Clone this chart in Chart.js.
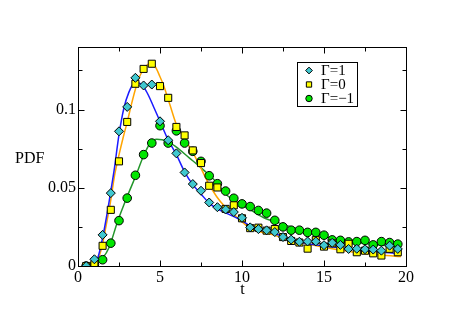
<!DOCTYPE html>
<html>
<head>
<meta charset="utf-8">
<script src="https://cdn.jsdelivr.net/npm/chart.js@4/dist/chart.umd.min.js"></script>
<style>
html,body{margin:0;padding:0;background:#fff;}
#wrap{width:457px;height:314px;position:relative;}
</style>
</head>
<body>
<div id="wrap"><canvas id="c" width="457" height="314"></canvas></div>
<script>
// ---- data ----
const seriesLabels = ['\u0393=1', '\u0393=0', '\u0393=\u22121'];
const tPoints = [0.5,1,1.5,2,2.5,3,3.5,4,4.5,5,5.5,6,6.5,7,7.5,8,8.5,9,9.5,10,10.5,11,11.5,12,12.5,13,13.5,14,14.5,15,15.5,16,16.5,17,17.5,18,18.5,19,19.5];
const gammaPlus1 = [0,0.0043,0.0199,0.0466,0.0861,0.1017,0.1203,0.1154,0.1160,0.0925,0.0804,0.0720,0.0598,0.0524,0.0481,0.0406,0.0376,0.0361,0.0345,0.0308,0.0247,0.0236,0.0228,0.0217,0.0185,0.0169,0.0155,0.0157,0.0157,0.0133,0.0148,0.0135,0.0109,0.0110,0.0107,0.0105,0.0098,0.0130,0.0109];
const gammaZero = [0,0.0012,0.0129,0.0359,0.0669,0.0921,0.1165,0.1260,0.1293,0.1150,0.1075,0.0889,0.0835,0.0739,0.0658,0.0513,0.0502,0.0365,0.0388,0.0305,0.0242,0.0245,0.0226,0.0236,0.0185,0.0160,0.0150,0.0111,0.0165,0.0124,0.0145,0.0107,0.0142,0.0088,0.0098,0.0081,0.0067,0.0110,0.0088];
const gammaMinus1 = [0,0.0010,0.0040,0.0146,0.0290,0.0434,0.0580,0.0712,0.0786,0.0897,0.0786,0.0864,0.0786,0.0733,0.0669,0.0577,0.0526,0.0479,0.0433,0.0397,0.0380,0.0355,0.0338,0.0292,0.0250,0.0229,0.0229,0.0215,0.0215,0.0197,0.0167,0.0164,0.0154,0.0156,0.0164,0.0135,0.0156,0.0150,0.0140];

// fitted curves
const curvePlus1T = [0.4,0.8,1.2,1.5,1.8,2.0,2.2,2.5,2.8,3.1,3.4,3.7,4.0,4.3,4.6,5.0,5.5,6.0,6.5,7.0,7.5,8.0,8.5,9.0,10,10.5,11,12,13,14,15,16,17,18,19,19.7];
const curvePlus1 = [0,0.001,0.005,0.018,0.035,0.048,0.061,0.084,0.101,0.111,0.1165,0.117,0.1145,0.109,0.102,0.0925,0.0805,0.0712,0.0602,0.052,0.046,0.0402,0.0365,0.034,0.029,0.0256,0.0238,0.0208,0.0168,0.0143,0.0128,0.0116,0.0103,0.0093,0.0084,0.0077];
const curveZeroT = [0.4,0.9,1.2,1.45,1.7,1.95,2.25,2.5,2.75,3.0,3.25,3.5,3.75,4.0,4.35,4.7,5.0,5.2,5.6,6.0,6.4,6.9,7.4,7.9,8.45,8.95,9.65,10.5,11.9,13.3,14.75,17,19.7];
const curveZero = [0,0.0005,0.004,0.012,0.025,0.039,0.059,0.071,0.082,0.092,0.103,0.113,0.121,0.1255,0.1293,0.1275,0.121,0.116,0.1032,0.0904,0.0829,0.0744,0.0647,0.054,0.0444,0.038,0.0316,0.0242,0.0199,0.0156,0.0124,0.0085,0.006];
const curveMinus1T = [0.5,1.0,1.5,1.9,2.4,3.0,3.5,4.0,4.4,4.8,5.4,6.0,6.8,7.4,8.4,9.0,9.5,10,10.5,11.3,12.3,13.3,14.75,16,17,18,19.5];
const curveMinus1 = [0,0.001,0.005,0.012,0.028,0.0444,0.057,0.0705,0.0785,0.081,0.080,0.076,0.069,0.0637,0.054,0.046,0.042,0.039,0.036,0.031,0.0274,0.024,0.020,0.0165,0.015,0.0138,0.0125];

const xTicks = [0,5,10,15,20];
const xMinorTicks = [2.5,7.5,12.5,17.5];
const yTicks = [0,0.05,0.1];
const yMinorTicks = [0.025,0.075,0.125];
const xLabel = 't';
const yLabel = 'PDF';

// ---- helpers ----
const pts = (xs, ys) => xs.map((x, i) => ({x: x, y: ys[i]}));
const SERIF = '"Liberation Serif", "DejaVu Serif", serif';

const markerDs = (label, ys, style, fill, r) => ({
  type: 'scatter', label: label, data: pts(tPoints, ys), showLine: false,
  pointStyle: style, pointRadius: r, pointHoverRadius: r,
  pointBackgroundColor: fill, pointBorderColor: '#000', pointBorderWidth: 1
});
const curveDs = (xs, ys, color) => ({
  type: 'line', label: '', data: pts(xs, ys), showLine: true, fill: false,
  borderColor: color, borderWidth: 1.5, pointRadius: 0, cubicInterpolationMode: 'monotone'
});

const framePlugin = {
  id: 'frame',
  afterDraw(chart) {
    const ctx = chart.ctx, a = chart.chartArea;
    const xs = chart.scales.x, ys = chart.scales.y;
    ctx.save();
    ctx.strokeStyle = '#000';
    ctx.lineWidth = 1;
    ctx.strokeRect(Math.round(a.left) + 0.5, Math.round(a.top) + 0.5, Math.round(a.right - a.left), Math.round(a.bottom - a.top));
    const L = Math.round(a.left) + 0.5, R = Math.round(a.right) + 0.5, T = Math.round(a.top) + 0.5, B = Math.round(a.bottom) + 0.5;
    ctx.beginPath();
    const xt = (v, len) => { const p = Math.round(xs.getPixelForValue(v)) + 0.5; ctx.moveTo(p, B); ctx.lineTo(p, B - len); ctx.moveTo(p, T); ctx.lineTo(p, T + len); };
    const yt = (v, len) => { const p = Math.round(ys.getPixelForValue(v)) + 0.5; ctx.moveTo(L, p); ctx.lineTo(L + len, p); ctx.moveTo(R, p); ctx.lineTo(R - len, p); };
    xTicks.forEach(v => xt(v, 6)); xMinorTicks.forEach(v => xt(v, 4));
    yTicks.forEach(v => yt(v, 6)); yMinorTicks.forEach(v => yt(v, 4));
    ctx.stroke();

    // axis titles
    ctx.fillStyle = '#000';
    ctx.font = '16px ' + SERIF;
    ctx.textAlign = 'left'; ctx.textBaseline = 'alphabetic';
    ctx.fillText(yLabel, 15, 163);
    ctx.textAlign = 'center';
    ctx.fillText(xLabel, (a.left + a.right) / 2 + 0.5, 293.5);

    // legend
    const bx = 297.5, by = 62.5, bw = 60, bh = 44;
    ctx.strokeRect(bx, by, bw, bh);
    const rows = [70.5, 84.5, 98.5];
    for (let i = 0; i < 3; i++) {
      const ds = chart.data.datasets[i];
      ctx.fillStyle = ds.pointBackgroundColor;
      ctx.strokeStyle = '#000';
      ctx.lineWidth = 1;
      Chart.helpers.drawPoint(ctx, {pointStyle: ds.pointStyle, rotation: 0, borderWidth: 1, radius: ds.pointRadius * 0.75}, 309, rows[i]);
      ctx.fillStyle = '#000';
      ctx.font = '15px ' + SERIF;
      ctx.textAlign = 'left'; ctx.textBaseline = 'middle';
      ctx.fillText(seriesLabels[i], 321, rows[i] + 1);
    }
    ctx.restore();
  }
};

new Chart(document.getElementById('c'), {
  data: {
    datasets: [
      markerDs(seriesLabels[0], gammaPlus1, 'rectRot', '#40c8d0', 4.5),
      markerDs(seriesLabels[1], gammaZero, 'rect', '#ffff00', 5),
      markerDs(seriesLabels[2], gammaMinus1, 'circle', '#00e600', 4.3),
      curveDs(curvePlus1T, curvePlus1, '#1a1aff'),
      curveDs(curveZeroT, curveZero, '#ffa500'),
      curveDs(curveMinus1T, curveMinus1, '#22962a')
    ]
  },
  options: {
    responsive: false,
    animation: false,
    devicePixelRatio: 1,
    layout: {padding: {top: 47, right: 51, left: 0, bottom: 0}},
    plugins: {legend: {display: false}, tooltip: {enabled: false}},
    scales: {
      x: {
        type: 'linear', min: 0, max: 20,
        grid: {display: false, drawTicks: false}, border: {display: false},
        afterBuildTicks: s => { s.ticks = xTicks.map(v => ({value: v})); },
        afterFit: s => { s.height = 48; },
        ticks: {color: '#000', font: {family: SERIF, size: 16}, padding: 2, maxRotation: 0, callback: v => String(v)}
      },
      y: {
        type: 'linear', min: 0, max: 0.14,
        grid: {display: false, drawTicks: false}, border: {display: false},
        afterBuildTicks: s => { s.ticks = yTicks.map(v => ({value: v})); },
        afterFit: s => { s.width = 78; },
        ticks: {color: '#000', font: {family: SERIF, size: 16}, padding: 2, callback: v => String(v)}
      }
    }
  },
  plugins: [framePlugin]
});
</script>
</body>
</html>
